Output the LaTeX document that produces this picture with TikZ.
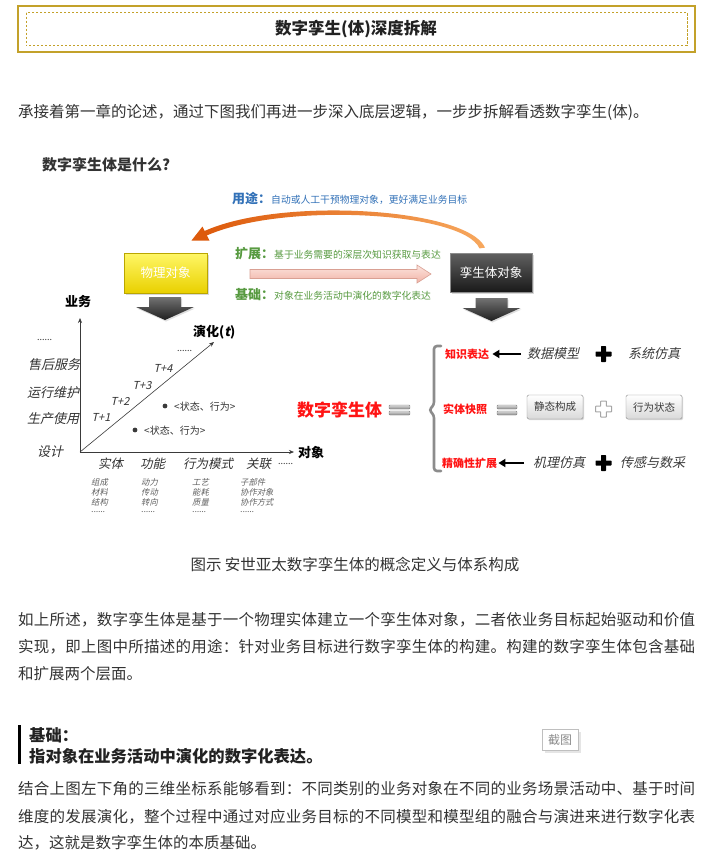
\documentclass[tikz,border=0pt]{standalone}
\usepackage{fontspec}
\setmainfont{Noto Sans CJK SC}
\newfontfamily\itcjk[FakeSlant=0.22]{Noto Sans CJK SC}
\usetikzlibrary{shadows,arrows.meta}
\makeatletter
\newcommand\jline[2]{\makebox[#1][s]{\jl@a#2\relax}}
\def\jl@a#1{#1\jl@b}
\def\jl@b#1{\ifx\relax#1\else\hskip 0pt plus 1fil\relax#1\expandafter\jl@b\fi}
\makeatother
\newcommand\fs[1]{\fontsize{#1pt}{#1pt}\selectfont}
\newcommand\sixdots{......}
\definecolor{bodyc}{HTML}{333333}
\definecolor{titc}{HTML}{222222}
\definecolor{gold}{HTML}{C3A12A}
\definecolor{bluc}{HTML}{3372B8}
\definecolor{grnc}{HTML}{579A40}
\definecolor{orgd}{HTML}{DD5A0C}
\definecolor{orgl}{HTML}{F7A85E}
\definecolor{redc}{HTML}{FF1414}
\definecolor{dkc}{HTML}{3A3A3A}
\definecolor{ytop}{HTML}{FFF766}
\definecolor{ybot}{HTML}{E9D000}
\definecolor{pinkt}{HTML}{FCE4DE}
\definecolor{pinkb}{HTML}{F1B3A6}
\definecolor{pinkd}{HTML}{D9A093}
\newcommand\blockdn[2]{%
  \shade[top color=black!55, bottom color=black!88, drop shadow={shadow xshift=1pt,shadow yshift=-1.5pt,opacity=0.25}]
    (#1-16,#2) -- (#1+16,#2) -- (#1+16,#2+10) -- (#1+29,#2+10) -- (#1,#2+23) -- (#1-29,#2+10) -- (#1-16,#2+10) -- cycle;}
\begin{document}
\begin{tikzpicture}[x=1pt,y=-1pt,
  every node/.style={inner sep=0pt},
  ptxt/.style={anchor=west, text=bodyc, font=\fs{15.5}},
  bold/.style={anchor=west, text=titc, font=\fs{16.3}\bfseries},
  ybox/.style={draw=ybot!80!black, top color=ytop, bottom color=ybot, minimum width=83pt, minimum height=40pt, text=white, font=\fs{12.5}, drop shadow={shadow xshift=1.5pt,shadow yshift=-1.5pt,opacity=0.3}},
  dbox/.style={draw=black!45, top color=black!62, bottom color=black!90, minimum width=82pt, minimum height=39pt, text=white, font=\fs{12.5}, drop shadow={shadow xshift=1.5pt,shadow yshift=-1.5pt,opacity=0.3}},
  axis/.style={draw=dkc, line width=0.6pt, -{Stealth[length=5pt,width=4pt]}},
  axlab/.style={text=black, font=\fs{13}\bfseries},
  ylab/.style={anchor=west, text=bodyc, font=\itcjk\fs{13}},
  xlab/.style={text=bodyc, font=\itcjk\fs{12.5}},
  sub/.style={anchor=west, text=black!62, font=\itcjk\fs{8.3}},
  tlab/.style={text=bodyc, font=\itcjk\fs{11}},
  st/.style={anchor=west, text=bodyc, font=\fs{10}},
  rlab/.style={anchor=west, text=redc, font=\fs{11}\bfseries},
  ilab/.style={anchor=west, text=dkc, font=\itcjk\fs{13}},
  gbox/.style={draw=black!45, top color=white, bottom color=black!15, rounded corners=1.5pt, minimum width=56pt, minimum height=24pt, text=dkc, font=\fs{10.5}, drop shadow={shadow xshift=1.2pt,shadow yshift=-1.2pt,opacity=0.3}},
  dbar/.style={draw=black!50, line width=0.4pt, top color=black!15, bottom color=black!45, rounded corners=1pt},
  rarr/.style={draw=black, line width=2.4pt, -{Triangle[length=7pt,width=8pt]}},
]
\useasboundingbox (0,0) rectangle (702,865);
\fill[white] (0,0) rectangle (702,865);

% ---------- title box ----------
\draw[gold, line width=1.3pt] (18,6) rectangle (695,52);
\draw[gold, line width=0.9pt, dash pattern=on 2.2pt off 1.8pt] (26,12.5) rectangle (687,45.5);
\node[font=\fs{16.5}\bfseries, text=titc] (title) at (356,29) {数字孪生(体)深度拆解};

\node[ptxt] (p1) at (18,112) {承接着第一章的论述，通过下图我们再进一步深入底层逻辑，一步步拆解看透数字孪生(体)。};

% ---------- diagram: top part ----------
\node[anchor=west, font=\fs{15}\bfseries, text=black!80] (dq) at (42,165) {数字孪生体是什么?};
\node[anchor=west, text=bluc] (use) at (232,198) {{\fs{13}\bfseries 用途：}{\fs{9.8}自动或人工干预物理对象，更好满足业务目标}};
\node[anchor=west, text=grnc] (ext) at (235,254) {{\fs{13}\bfseries 扩展：}{\fs{9.8}基于业务需要的深层次知识获取与表达}};
\node[anchor=west, text=grnc] (bas) at (235,295) {{\fs{13}\bfseries 基础：}{\fs{9.8}对象在业务活动中演化的数字化表达}};

\node[ybox] (phy) at (165.5,273) {物理对象};
\node[dbox] (twin) at (491,272.5) {孪生体对象};

% orange curved arrow (twin -> phy)
\shade[left color=orgd, right color=orgl]
  (203,231.7) .. controls (279.5,196) and (467.5,208) .. (485,247.6)
  -- (479.5,248.4) .. controls (463.5,211.5) and (280.5,201.5) .. (205,236.3) -- cycle;
\fill[orgd] (209.5,240.5) -- (191.5,240.5) -- (202.5,226.5) -- cycle;

% pink arrow
\shadedraw[top color=pinkt, bottom color=pinkb, draw=pinkd, line width=0.6pt]
  (250,269.5) -- (417,269.5) -- (417,265) -- (431,274) -- (417,283) -- (417,278.5) -- (250,278.5) -- cycle;

% block arrows below the boxes
\blockdn{165}{297}
\blockdn{491.5}{298}

% ---------- 3D axes ----------
\coordinate (O) at (80,452);
\coordinate (Yt) at (80,318);
\coordinate (Xt) at (294,452);
\coordinate (Zt) at (214,342);
\draw[axis] (O) -- (Yt);
\draw[axis] (O) -- (Xt);
\draw[axis] (O) -- (Zt);
\node[axlab] (ay) at (78,302) {业务};
\node[axlab, anchor=west] (ax) at (298,453) {对象};
\node[axlab, anchor=west] (az) at (193,332) {演化({\itcjk t})};
\node[st, font=\fs{9}] (zd) at (177,351) {\sixdots};

\node[tlab] (t4) at (163,368) {T+4};
\node[tlab] (t3) at (142,386) {T+3};
\node[tlab] (t2) at (120,401) {T+2};
\node[tlab] (t1) at (101,417) {T+1};

\fill[dkc] (165,406) circle (2.4pt);
\node[st] (s1) at (174,406.5) {<状态、行为>};
\fill[dkc] (135,430) circle (2.4pt);
\node[st] (s2) at (144,431) {<状态、行为>};

\node[ylab, font=\fs{9}] (yd) at (37,340) {\sixdots};
\node[ylab] (y4) at (28,365) {售后服务};
\node[ylab] (y3) at (27,393) {运行维护};
\node[ylab] (y2) at (27,419) {生产使用};
\node[ylab] (y1) at (37,452) {设计};

\node[xlab] (x1) at (110.5,464) {实体};
\node[xlab] (x2) at (152.5,464) {功能};
\node[xlab] (x3) at (208,464) {行为模式};
\node[xlab] (x4) at (258.5,464) {关联};
\node[st, font=\fs{9}] (x5) at (278,464) {\sixdots};

\foreach \t [count=\i] in {组成,材料,结构,\sixdots} \node[sub] (a\i) at (91,472+10*\i) {\t};
\foreach \t [count=\i] in {动力,传动,转向,\sixdots} \node[sub] (b\i) at (141,472+10*\i) {\t};
\foreach \t [count=\i] in {工艺,能耗,质量,\sixdots} \node[sub] (c\i) at (192,472+10*\i) {\t};
\foreach \t [count=\i] in {子部件,协作对象,协作方式,\sixdots} \node[sub] (d\i) at (240,472+10*\i) {\t};

% ---------- right part ----------
\node[anchor=west, text=redc, font=\fs{17}\bfseries] (dt) at (297,410) {数字孪生体};
\shade[dbar] (389,405) rectangle (410,409);
\shade[dbar] (389,411) rectangle (410,415);
\draw[black!45, line width=2.6pt, rounded corners=3pt, line cap=round]
  (441,346) -- (434,346) -- (434,405) -- (429,410) -- (434,415) -- (434,471) -- (441,471);

% row 1
\node[rlab] (r1) at (445,354) {知识表达};
\node[ilab] (dm) at (527,354) {数据模型};
\draw[rarr, shorten <=6pt, shorten >=3pt] (dm.west) -- (r1.east);
\fill[black, rounded corners=0.6pt] (595.5,351.5) rectangle (611.5,356.5);
\fill[black, rounded corners=0.6pt] (601,346) rectangle (606,362);
\node[ilab] (xf) at (628,354) {系统仿真};

% row 2
\node[rlab] (r2) at (443,409) {实体快照};
\shade[dbar] (497,405) rectangle (517,409);
\shade[dbar] (497,411) rectangle (517,415);
\node[gbox] (g1) at (555,407) {静态构成};
\draw[black!35, fill=white, line width=1pt, rounded corners=0.5pt]
  (600.7,401) -- (606.3,401) -- (606.3,406.2) -- (611.5,406.2) -- (611.5,411.8) -- (606.3,411.8)
  -- (606.3,417) -- (600.7,417) -- (600.7,411.8) -- (595.5,411.8) -- (595.5,406.2) -- (600.7,406.2) -- cycle;
\node[gbox] (g2) at (654,407) {行为状态};

% row 3
\node[rlab] (r3) at (442,463) {精确性扩展};
\node[ilab] (jl) at (533,463) {机理仿真};
\draw[rarr, shorten <=9pt, shorten >=1pt] (jl.west) -- (r3.east);
\fill[black, rounded corners=0.6pt] (595.5,460.5) rectangle (611.5,465.5);
\fill[black, rounded corners=0.6pt] (601,455) rectangle (606,471);
\node[ilab] (cg) at (620,463) {传感与数采};

% ---------- caption & text ----------
\node[text=bodyc, font=\fs{15.5}] (cap) at (355,565) {图示 安世亚太数字孪生体的概念定义与体系构成};

\node[ptxt] (p2a) at (18,620) {\jline{677pt}{如上所述，数字孪生体是基于一个物理实体建立一个孪生体对象，二者依业务目标起始驱动和价值}};
\node[ptxt] (p2b) at (18,647) {\jline{677pt}{实现，即上图中所描述的用途：针对业务目标进行数字孪生体的构建。构建的数字孪生体包含基础}};
\node[ptxt] (p2c) at (18,674) {和扩展两个层面。};

\fill[black] (18,725) rectangle (21,764);
\node[bold] (h1) at (29,735) {基础：};
\node[bold] (h2) at (29,756) {指对象在业务活动中演化的数字化表达。};

\node[draw=black!25, fill=white, minimum width=36pt, minimum height=21pt, text=black!45, font=\fs{12},
  drop shadow={shadow xshift=3pt,shadow yshift=-3pt,opacity=0.2}] (jt) at (560,739.5) {截图};

\node[ptxt] (p3a) at (18,789) {\jline{677pt}{结合上图左下角的三维坐标系能够看到：不同类别的业务对象在不同的业务场景活动中、基于时间}};
\node[ptxt] (p3b) at (18,817) {\jline{677pt}{维度的发展演化，整个过程中通过对应业务目标的不同模型和模型组的融合与演进来进行数字化表}};
\node[ptxt] (p3c) at (18,843) {达，这就是数字孪生体的本质基础。};
\end{tikzpicture}
\end{document}
